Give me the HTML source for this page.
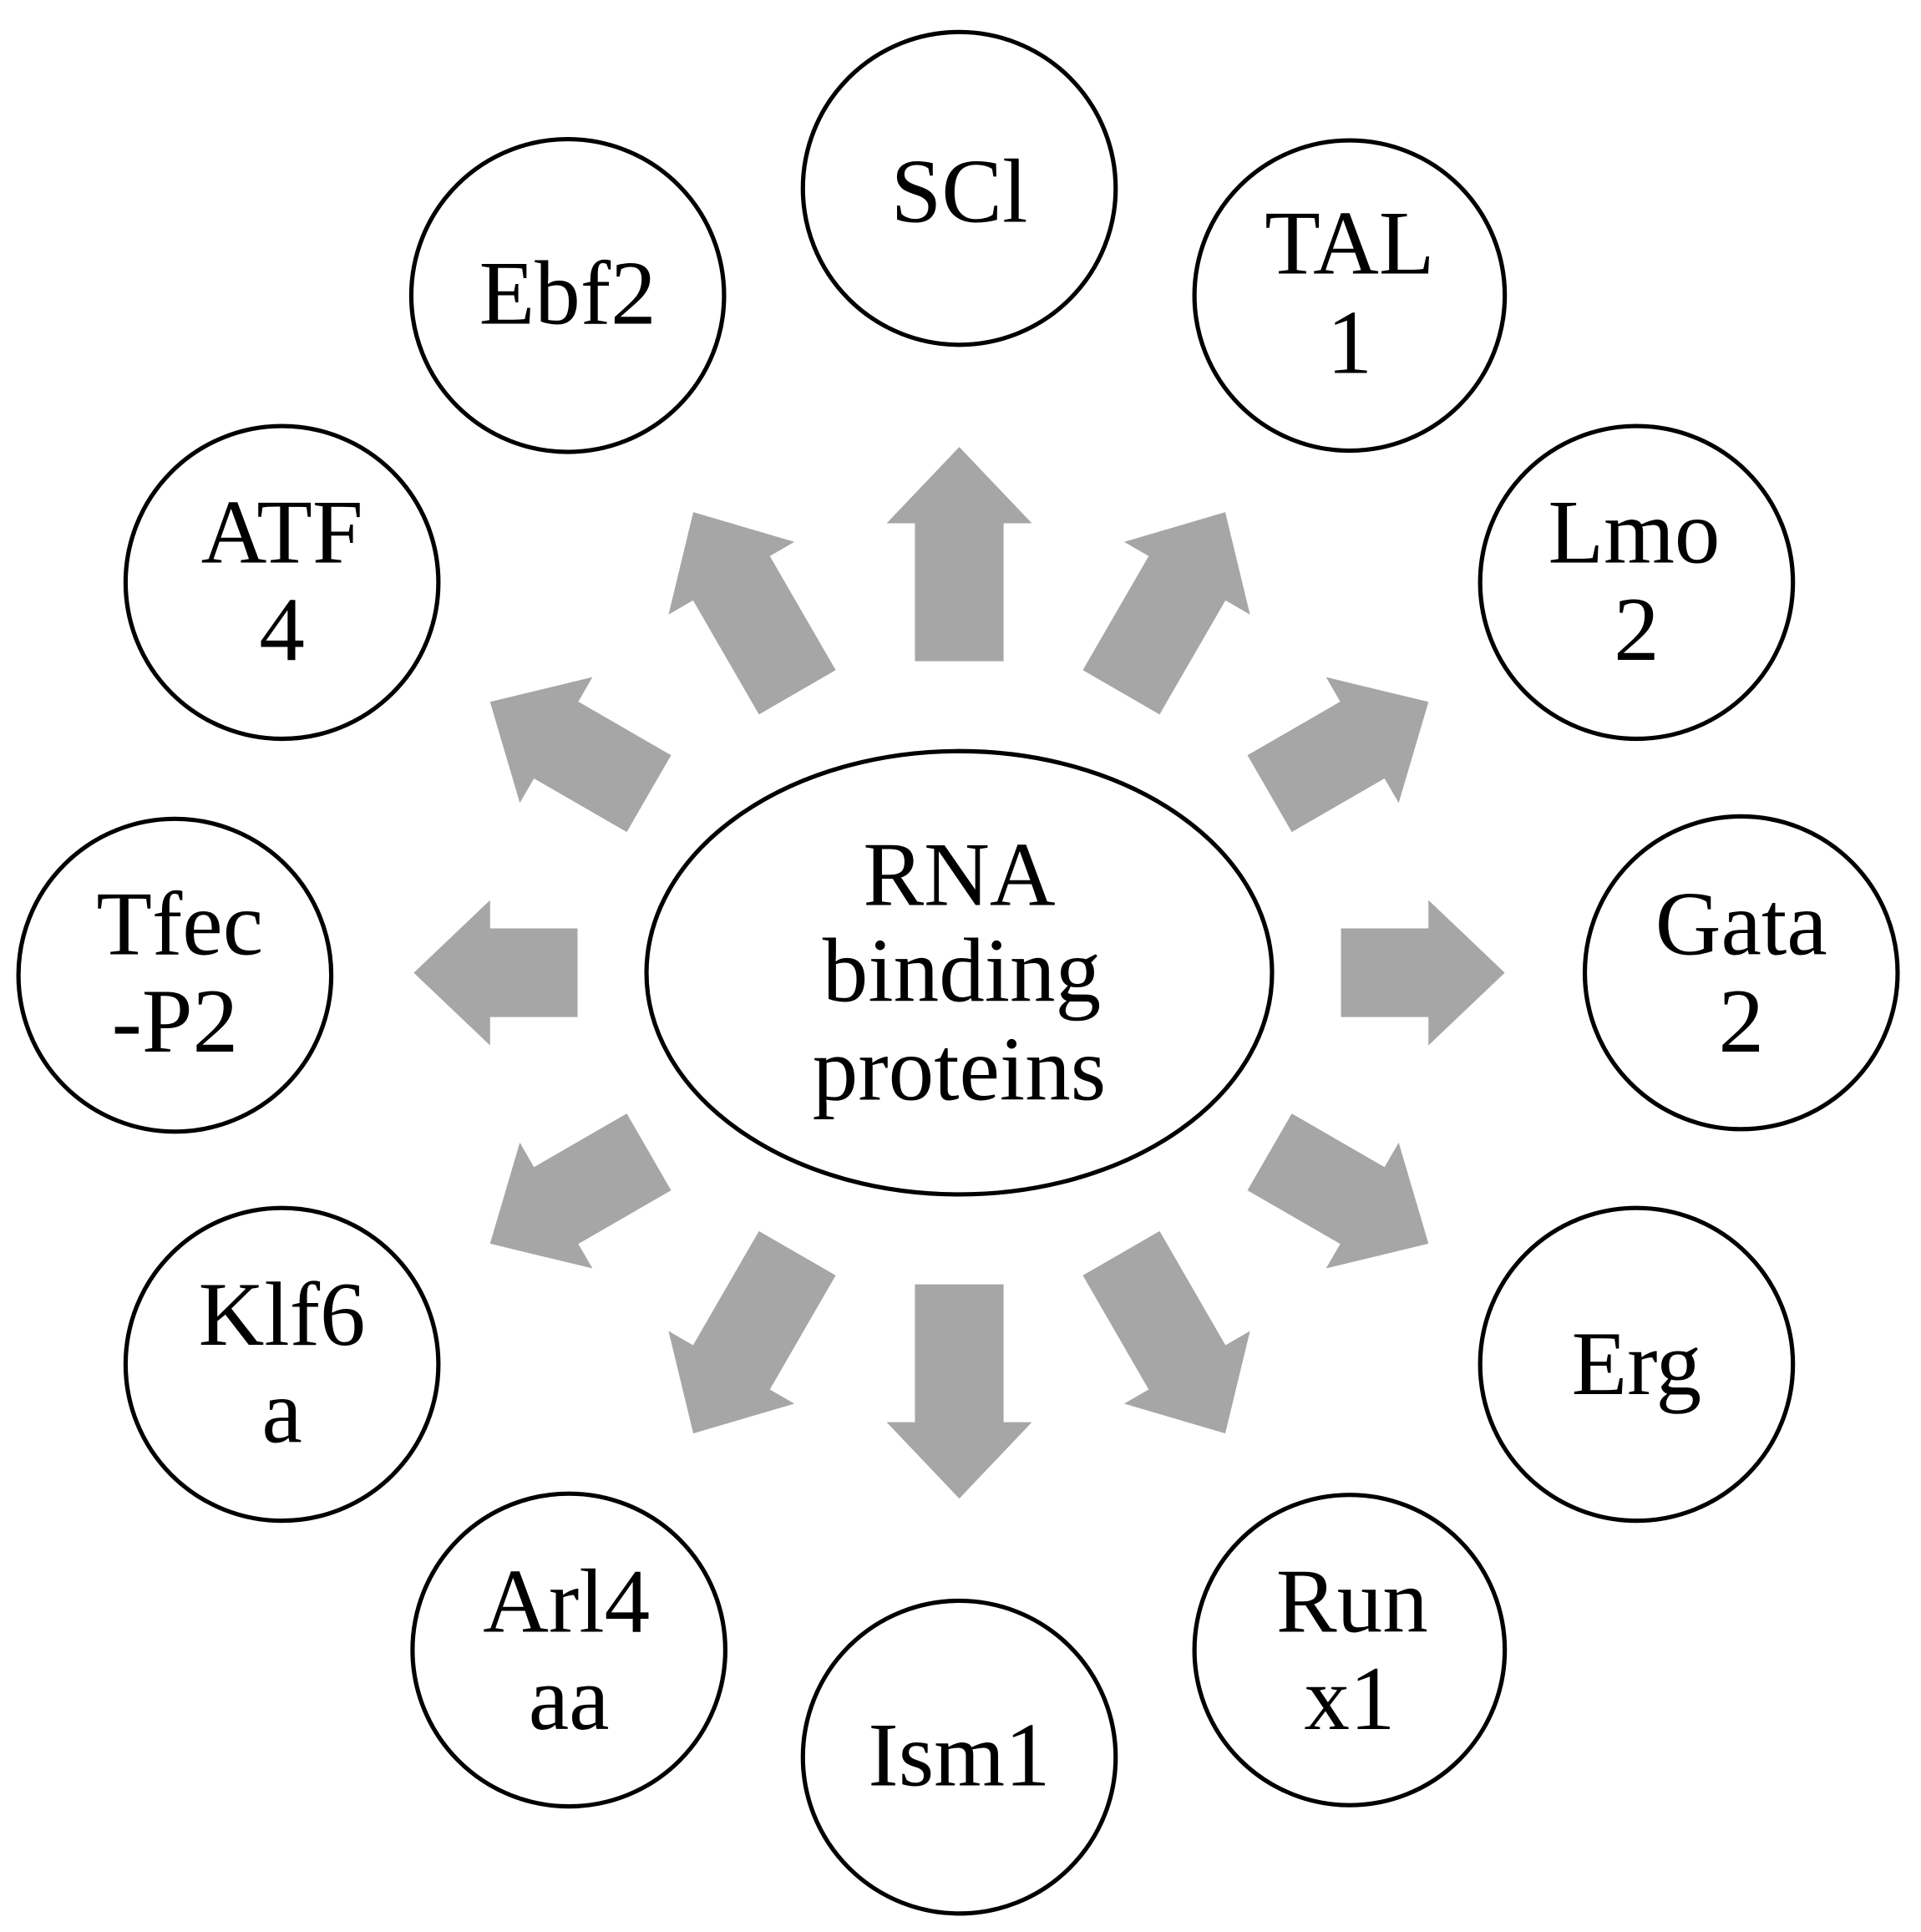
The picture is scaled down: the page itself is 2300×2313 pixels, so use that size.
<!DOCTYPE html>
<html><head><meta charset="utf-8"><style>html,body{margin:0;padding:0;background:#fff}svg{display:block}</style></head><body>
<svg width="2300" height="2313" viewBox="0 0 1560 1569" preserveAspectRatio="none" xmlns="http://www.w3.org/2000/svg">
<g fill="#a6a6a6">
<polygon points="310,-36 381,-36 381,-59 443,0 381,59 381,36 310,36" transform="translate(779,790) rotate(0)"/>
<polygon points="291,-36 378,-36 378,-59 440,0 378,59 378,36 291,36" transform="translate(779,790) rotate(-30)"/>
<polygon points="263,-36 370,-36 370,-59 432,0 370,59 370,36 263,36" transform="translate(779,790) rotate(-60)"/>
<polygon points="253,-36 365,-36 365,-59 427,0 365,59 365,36 253,36" transform="translate(779,790) rotate(-90)"/>
<polygon points="263,-36 370,-36 370,-59 432,0 370,59 370,36 263,36" transform="translate(779,790) rotate(-120)"/>
<polygon points="291,-36 378,-36 378,-59 440,0 378,59 378,36 291,36" transform="translate(779,790) rotate(-150)"/>
<polygon points="310,-36 381,-36 381,-59 443,0 381,59 381,36 310,36" transform="translate(779,790) rotate(180)"/>
<polygon points="291,-36 378,-36 378,-59 440,0 378,59 378,36 291,36" transform="translate(779,790) rotate(150)"/>
<polygon points="263,-36 370,-36 370,-59 432,0 370,59 370,36 263,36" transform="translate(779,790) rotate(120)"/>
<polygon points="253,-36 365,-36 365,-59 427,0 365,59 365,36 253,36" transform="translate(779,790) rotate(90)"/>
<polygon points="263,-36 370,-36 370,-59 432,0 370,59 370,36 263,36" transform="translate(779,790) rotate(60)"/>
<polygon points="291,-36 378,-36 378,-59 440,0 378,59 378,36 291,36" transform="translate(779,790) rotate(30)"/>
</g>
<g fill="#fff" stroke="#000" stroke-width="3.5">
<ellipse cx="779" cy="790" rx="254" ry="180"/>
<circle cx="779" cy="153" r="127"/>
<circle cx="1096" cy="240" r="126"/>
<circle cx="1329" cy="473" r="127"/>
<circle cx="1414" cy="790" r="127"/>
<circle cx="1329" cy="1108" r="127"/>
<circle cx="1096" cy="1340" r="126"/>
<circle cx="779" cy="1427" r="127"/>
<circle cx="462" cy="1340" r="127"/>
<circle cx="229" cy="1108" r="127"/>
<circle cx="142" cy="792" r="127"/>
<circle cx="229" cy="473" r="127"/>
<circle cx="461" cy="240" r="127"/>
</g>
<g font-family="Liberation Serif, serif" font-size="74" text-anchor="middle" fill="#000">
<text x="779" y="735">RNA</text><text x="781" y="813">binding</text><text x="779" y="893">proteins</text>
<text x="779" y="180">SCl</text>
<text x="1096" y="222">TAL</text><text x="1096" y="303">1</text>
<text x="1327" y="457">Lmo</text><text x="1329" y="536">2</text>
<text x="1414" y="775">Gata</text><text x="1414" y="854">2</text>
<text x="1329" y="1132">Erg</text>
<text x="1098" y="1325">Run</text><text x="1096" y="1404">x1</text>
<text x="779" y="1450">Ism1</text>
<text x="460" y="1325">Arl4</text><text x="462" y="1404">aa</text>
<text x="229" y="1092">Klf6</text><text x="229" y="1171">a</text>
<text x="146" y="775">Tfec</text><text x="142" y="854">-P2</text>
<text x="229" y="457">ATF</text><text x="229" y="536">4</text>
<text x="461" y="263">Ebf2</text>
</g>
</svg>
</body></html>
